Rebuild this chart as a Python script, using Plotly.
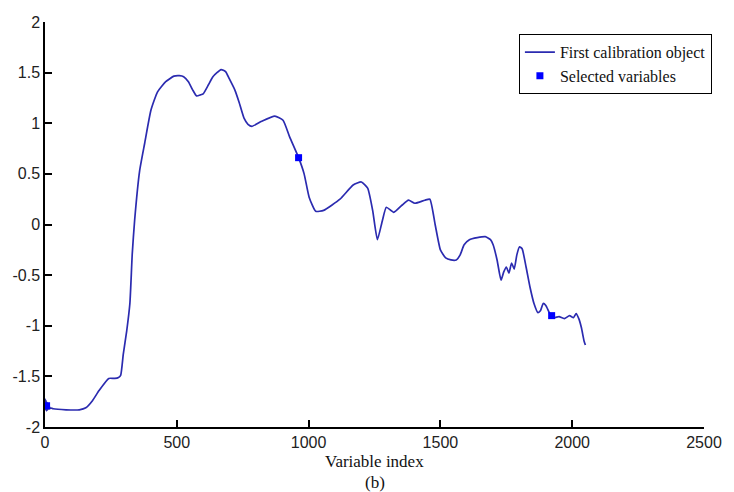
import plotly.graph_objects as go

# Spectrum of the first calibration object
x_vals = [0, 2, 4, 6, 8, 10, 12, 14, 16, 18, 20, 31, 80, 130, 155, 180, 205, 242, 265,
          279, 287, 297, 310, 322, 331, 340, 359, 378, 402, 427, 458, 489, 510, 526,
          544, 560, 575, 590, 600, 620, 637, 668, 685, 699, 720, 736, 755, 770, 785,
          822, 872, 903, 928, 962, 983, 1002, 1027, 1057, 1119, 1169, 1200, 1224,
          1243, 1261, 1280, 1295, 1323, 1354, 1379, 1403, 1441, 1460, 1480, 1500,
          1520, 1540, 1560, 1575, 1590, 1610, 1640, 1670, 1690, 1700, 1715, 1730,
          1740, 1750, 1760, 1770, 1780, 1790, 1800, 1810, 1825, 1840, 1855, 1870,
          1880, 1890, 1900, 1915, 1930, 1950, 1970, 1990, 2005, 2015, 2025, 2035,
          2045, 2050]
y_vals = [-1.72, -1.83, -1.74, -1.84, -1.76, -1.83, -1.78, -1.82, -1.79, -1.82, -1.81,
          -1.82, -1.83, -1.83, -1.81, -1.74, -1.64, -1.52, -1.52, -1.51, -1.49, -1.28,
          -1.05, -0.78, -0.29, 0.04, 0.53, 0.80, 1.13, 1.31, 1.41, 1.465, 1.47, 1.46,
          1.41, 1.33, 1.27, 1.28, 1.29, 1.38, 1.46, 1.53, 1.51, 1.44, 1.33, 1.21, 1.05,
          0.99, 0.97, 1.02, 1.07, 1.03, 0.865, 0.66, 0.50, 0.27, 0.13, 0.14, 0.25,
          0.39, 0.42, 0.36, 0.14, -0.15, 0.04, 0.17, 0.12, 0.19, 0.24, 0.21, 0.24,
          0.25, 0.0, -0.25, -0.33, -0.35, -0.35, -0.30, -0.20, -0.15, -0.13, -0.12,
          -0.15, -0.20, -0.35, -0.55, -0.47, -0.42, -0.48, -0.38, -0.44, -0.30, -0.22,
          -0.24, -0.42, -0.62, -0.78, -0.87, -0.85, -0.78, -0.80, -0.88, -0.92, -0.91,
          -0.93, -0.90, -0.92, -0.88, -0.93, -1.02, -1.15, -1.19]

# Selected variables
sel_x = [6, 962, 1922]
sel_y = [-1.79, 0.66, -0.90]

x_ticks = [0, 500, 1000, 1500, 2000, 2500]
x_ticktext = ["0", "500", "1000", "1500", "2000", "2500"]
y_ticks = [-2, -1.5, -1, -0.5, 0, 0.5, 1, 1.5, 2]
y_ticktext = ["-2", "-1.5", "-1", "-0.5", "0", "0.5", "1", "1.5", "2"]

fig = go.Figure()
fig.add_trace(go.Scatter(x=x_vals, y=y_vals, mode="lines",
                         line=dict(color="#2b2bb0", width=1.7, shape="spline", smoothing=0.5),
                         name="First calibration object"))
fig.add_trace(go.Scatter(x=sel_x, y=sel_y, mode="markers",
                         marker=dict(symbol="square", size=7, color="#0000ff"),
                         name="Selected variables"))

axis_font = dict(family="Liberation Sans, Arial, sans-serif", size=16, color="#222")
fig.update_layout(
    width=734, height=492,
    margin=dict(l=41.5, r=18.3, t=22, b=65),
    paper_bgcolor="white", plot_bgcolor="white",
    showlegend=True,
    legend=dict(x=1.012, y=0.970, xanchor="right", yanchor="top",
                bordercolor="black", borderwidth=1, bgcolor="white",
                font=dict(family="Liberation Serif, Times New Roman, serif", size=16, color="#111"),
                tracegroupgap=0, itemwidth=30),
    xaxis=dict(range=[0, 2500], tickvals=x_ticks, ticktext=x_ticktext,
               showline=True, linecolor="black", linewidth=1.5,
               ticks="inside", ticklen=7, tickcolor="black", tickwidth=1.5,
               showgrid=False, zeroline=False, tickfont=axis_font),
    yaxis=dict(range=[-2, 2], tickvals=y_ticks, ticktext=y_ticktext,
               showline=True, linecolor="black", linewidth=1.5,
               ticks="inside", ticklen=7, tickcolor="black", tickwidth=1.5,
               showgrid=False, zeroline=False, tickfont=axis_font),
    annotations=[
        dict(text="Variable index", x=0.5, y=-0.0864, xref="paper", yref="paper",
             xanchor="center", yanchor="middle", showarrow=False,
             font=dict(family="Liberation Serif, Times New Roman, serif", size=17, color="#111")),
        dict(text="(b)", x=0.5, y=-0.1375, xref="paper", yref="paper",
             xanchor="center", yanchor="middle", showarrow=False,
             font=dict(family="Liberation Serif, Times New Roman, serif", size=17, color="#111")),
    ],
)

fig.write_html("out.html")
